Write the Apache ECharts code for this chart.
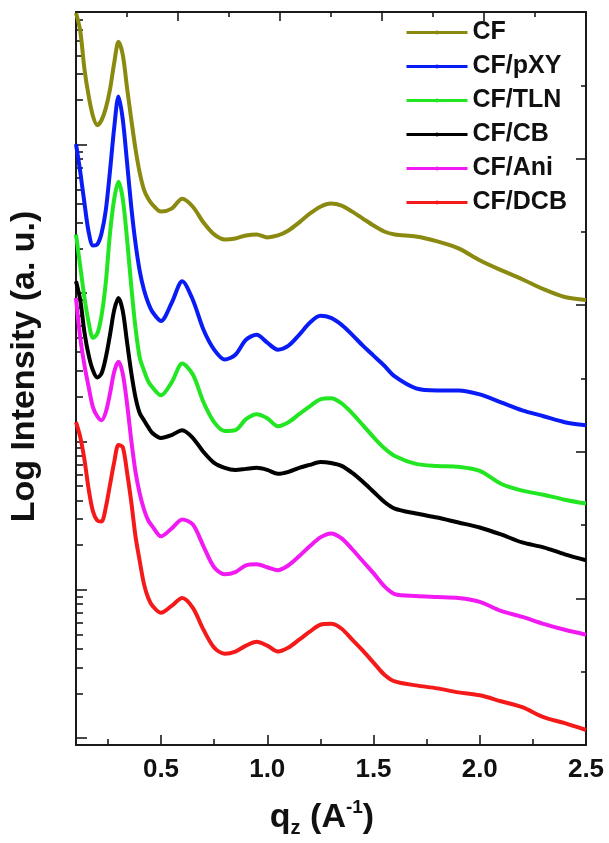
<!DOCTYPE html>
<html>
<head>
<meta charset="utf-8">
<script src="https://cdn.jsdelivr.net/npm/echarts@6/dist/echarts.min.js"></script>
<style>html,body{margin:0;padding:0;background:#fff}#c{width:609px;height:843px}</style>
</head>
<body>
<div id="c"></div>
<script>
// q_z grid (A^-1)
const qz = [0.10,0.12,0.14,0.16,0.18,0.20,0.22,0.24,0.26,0.28,0.30,0.32,0.34,0.36,0.38,0.40,0.42,0.44,0.46,
  0.50,0.55,0.60,0.65,0.70,0.75,0.80,0.85,0.90,0.95,1.00,1.05,1.10,1.15,1.20,1.25,1.30,1.35,1.40,1.45,1.50,1.55,1.60,
  1.70,1.80,1.90,2.00,2.10,2.20,2.30,2.40,2.50];
// log10 intensity (a. u., vertically offset curves)
const cf  = [4.889,4.769,4.508,4.327,4.193,4.133,4.166,4.246,4.374,4.555,4.695,4.608,4.387,4.173,3.972,3.811,3.697,3.637,3.597,
  3.550,3.570,3.637,3.583,3.476,3.396,3.362,3.369,3.389,3.396,3.376,3.389,3.423,3.476,3.536,3.583,3.604,3.590,3.550,3.503,3.456,3.416,3.396,
  3.382,3.349,3.302,3.222,3.155,3.094,3.027,2.974,2.954];
const pxy = [4.005,3.818,3.604,3.409,3.322,3.329,3.403,3.557,3.824,4.119,4.327,4.173,3.885,3.583,3.336,3.148,3.021,2.934,2.873,
  2.813,2.934,3.081,2.954,2.753,2.619,2.552,2.585,2.686,2.719,2.666,2.619,2.646,2.719,2.800,2.847,2.833,2.786,2.719,2.646,2.579,2.512,2.438,
  2.358,2.344,2.344,2.317,2.264,2.210,2.170,2.130,2.110];
const tln = [3.396,3.181,2.967,2.800,2.699,2.726,2.847,3.068,3.403,3.637,3.751,3.637,3.369,3.048,2.766,2.565,2.478,2.405,2.364,
  2.311,2.398,2.525,2.451,2.264,2.130,2.070,2.076,2.150,2.184,2.157,2.103,2.130,2.184,2.237,2.284,2.291,2.257,2.190,2.110,2.029,1.956,1.902,
  1.849,1.835,1.829,1.802,1.715,1.668,1.641,1.607,1.581];
const cb  = [3.081,2.954,2.733,2.579,2.478,2.431,2.458,2.565,2.719,2.887,2.967,2.880,2.672,2.465,2.297,2.190,2.143,2.096,2.056,
  2.023,2.043,2.076,2.023,1.929,1.855,1.822,1.808,1.815,1.822,1.808,1.782,1.795,1.822,1.842,1.862,1.855,1.835,1.788,1.728,1.661,1.594,1.547,
  1.514,1.487,1.453,1.420,1.373,1.319,1.286,1.239,1.199];
const ani = [2.967,2.699,2.512,2.364,2.230,2.170,2.143,2.197,2.324,2.472,2.538,2.458,2.257,2.009,1.795,1.648,1.541,1.467,1.427,
  1.360,1.413,1.474,1.440,1.293,1.152,1.105,1.119,1.165,1.172,1.152,1.132,1.165,1.226,1.293,1.353,1.380,1.346,1.273,1.192,1.112,1.025,0.971,
  0.958,0.951,0.944,0.918,0.857,0.817,0.770,0.730,0.697];
const dcb = [2.130,2.029,1.875,1.674,1.527,1.467,1.460,1.554,1.708,1.862,1.976,1.962,1.795,1.594,1.360,1.192,1.038,0.944,0.891,
  0.844,0.891,0.944,0.877,0.730,0.610,0.569,0.583,0.623,0.650,0.623,0.583,0.610,0.663,0.717,0.764,0.770,0.737,0.663,0.589,0.509,0.429,0.382,
  0.355,0.335,0.308,0.288,0.248,0.208,0.141,0.100,0.054];

const seriesNames = ['CF','CF/pXY','CF/TLN','CF/CB','CF/Ani','CF/DCB'];
const seriesData = [cf, pxy, tln, cb, ani, dcb];
const seriesColors = ['#8a8a10','#0a1cf5','#22e622','#000000','#f21af2','#f51a1a'];

// tick labels / positions
const xMajor = [0.5, 1.0, 1.5, 2.0, 2.5];
const xMinor = [0.25, 0.75, 1.25, 1.75, 2.25];
const yDecades = [0, 1, 2, 3, 4];
const yMin = -0.047, yMax = 4.896;
const yMinor = [];
yDecades.forEach(d => { for (let m = 2; m <= 9; m++) { const v = d + Math.log10(m); if (v < yMax) yMinor.push(v); } });

const FONT = '"Liberation Sans", Arial, Helvetica, sans-serif';
const AX = '#1a1a1a';

const chart = echarts.init(document.getElementById('c'), null, {renderer: 'canvas'});
chart.setOption({
  animation: false,
  backgroundColor: '#ffffff',
  grid: {left: 74, right: 23, top: 12, bottom: 93, containLabel: false},
  legend: {
    orient: 'vertical', left: 405, top: 20, padding: 0,
    itemWidth: 61, itemHeight: 5, itemGap: 9,
    lineStyle: {width: 3},
    textStyle: {fontFamily: FONT, fontSize: 25, fontWeight: 'bold', color: '#111', lineHeight: 25},
    data: seriesNames
  },
  xAxis: [
    {
      type: 'value', min: 0.1, max: 2.5, position: 'bottom',
      axisLine: {show: true, onZero: false, lineStyle: {color: AX, width: 2}},
      axisTick: {show: true, inside: true, length: 10, customValues: xMajor, lineStyle: {color: AX, width: 1.6}},
      axisLabel: {show: true, customValues: xMajor, formatter: v => v.toFixed(1), margin: 12,
        fontFamily: FONT, fontSize: 26, fontWeight: 'bold', color: '#111'},
      splitLine: {show: false},
      name: 'q{sub|z} (A{sup|-1})', nameLocation: 'middle', nameGap: 53,
      nameTextStyle: {
        fontFamily: FONT, fontSize: 34, fontWeight: 'bold', color: '#111', lineHeight: 40, padding: [0, 18, 0, 0],
        rich: {
          sub: {fontFamily: FONT, fontSize: 20, fontWeight: 'bold', color: '#111', lineHeight: 14, verticalAlign: 'bottom'},
          sup: {fontFamily: FONT, fontSize: 19, fontWeight: 'bold', color: '#111', lineHeight: 18, verticalAlign: 'top'}
        }
      }
    },
    {
      type: 'value', min: 0.1, max: 2.5, position: 'bottom',
      axisLine: {show: false, onZero: false},
      axisTick: {show: true, inside: true, length: 6, customValues: xMinor, lineStyle: {color: AX, width: 1.6}},
      axisLabel: {show: false}, splitLine: {show: false}
    },
    {
      type: 'value', min: 0, max: 10, interval: 2, position: 'top',
      axisLine: {show: true, onZero: false, lineStyle: {color: AX, width: 2}},
      axisTick: {show: true, inside: true, length: 9, lineStyle: {color: AX, width: 1.6}},
      minorTick: {show: true, splitNumber: 2, length: 5, lineStyle: {color: AX, width: 1.6}},
      axisLabel: {show: false}, splitLine: {show: false}, minorSplitLine: {show: false}
    }
  ],
  yAxis: [
    {
      type: 'value', min: yMin, max: yMax, position: 'left',
      axisLine: {show: true, onZero: false, lineStyle: {color: AX, width: 2}},
      axisTick: {show: true, inside: true, length: 11, customValues: yDecades, lineStyle: {color: AX, width: 1.6}},
      axisLabel: {show: false}, splitLine: {show: false},
      name: 'Log Intensity (a. u.)', nameLocation: 'middle', nameRotate: 90, nameGap: 34,
      nameTextStyle: {fontFamily: FONT, fontSize: 34, fontWeight: 'bold', color: '#111', padding: [0, 0, 0, 24]}
    },
    {
      type: 'value', min: yMin, max: yMax, position: 'left',
      axisLine: {show: false, onZero: false},
      axisTick: {show: true, inside: true, length: 7, customValues: yMinor, lineStyle: {color: AX, width: 1.6}},
      axisLabel: {show: false}, splitLine: {show: false}
    },
    {
      type: 'value', min: 0, max: 10, interval: 2, position: 'right',
      axisLine: {show: true, onZero: false, lineStyle: {color: AX, width: 2}},
      axisTick: {show: true, inside: true, length: 10, lineStyle: {color: AX, width: 1.6}},
      minorTick: {show: true, splitNumber: 2, length: 5, lineStyle: {color: AX, width: 1.6}},
      axisLabel: {show: false}, splitLine: {show: false}, minorSplitLine: {show: false}
    }
  ],
  series: seriesNames.map((name, i) => ({
    name: name, type: 'line', xAxisIndex: 0, yAxisIndex: 0,
    data: qz.map((q, j) => [q, seriesData[i][j]]),
    smooth: 0.3, showSymbol: false, symbol: 'circle', symbolSize: 4,
    color: seriesColors[i],
    lineStyle: {width: 4, color: seriesColors[i]},
    itemStyle: {color: seriesColors[i]}
  }))
});
</script>
</body>
</html>
